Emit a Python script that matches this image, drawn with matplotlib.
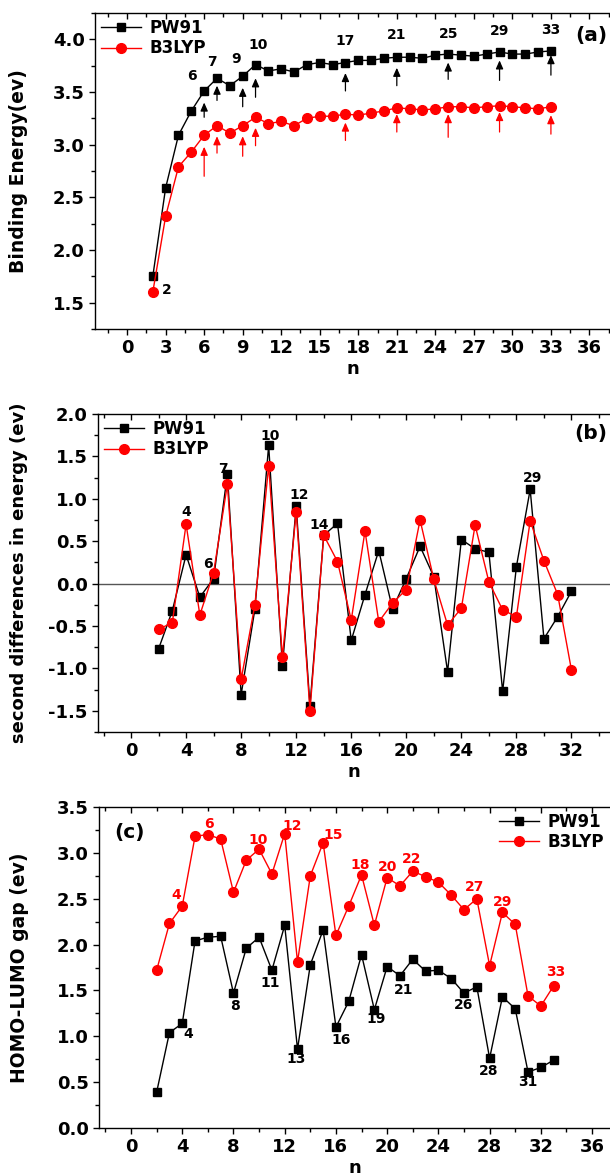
import numpy as np
import matplotlib
matplotlib.use('Agg')
import matplotlib.pyplot as plt
from matplotlib.ticker import MultipleLocator, FormatStrFormatter

plt.rcParams['font.family'] = ['DejaVu Sans']
plt.rcParams['font.weight'] = 'bold'
plt.rcParams['axes.unicode_minus'] = False

RED = '#ff0000'

# ---- (a) binding energy ----
n_a = np.arange(2, 34)
be_pw91 = [1.75, 2.59, 3.09, 3.32, 3.51, 3.63, 3.56, 3.65, 3.76, 3.70, 3.72, 3.69,
           3.76, 3.78, 3.76, 3.78, 3.80, 3.80, 3.82, 3.83, 3.83, 3.82, 3.85, 3.86,
           3.85, 3.84, 3.86, 3.88, 3.86, 3.86, 3.88, 3.89]
be_b3lyp = [1.60, 2.32, 2.79, 2.93, 3.09, 3.18, 3.11, 3.18, 3.26, 3.20, 3.22, 3.18,
            3.25, 3.27, 3.27, 3.29, 3.28, 3.30, 3.32, 3.35, 3.34, 3.33, 3.34, 3.36,
            3.36, 3.35, 3.36, 3.37, 3.36, 3.35, 3.34, 3.36]

arrow_n = [6, 7, 9, 10, 17, 21, 25, 29, 33]
arrow_gap_pw = [0.11, 0.07, 0.11, 0.13, 0.10, 0.10, 0.08, 0.08, 0.04]
arrow_len_pw = [0.14, 0.14, 0.18, 0.18, 0.17, 0.17, 0.16, 0.19, 0.19]
arrow_gap_b3 = [0.11, 0.10, 0.10, 0.10, 0.08, 0.06, 0.07, 0.06, 0.08]
arrow_len_b3 = [0.28, 0.16, 0.19, 0.17, 0.17, 0.17, 0.22, 0.19, 0.18]
# label offsets (pixels) from the PW91 point
lab_a_dx = [-12, -5, -7, 3, 0, 0, 0, 0, 0]
lab_a_dy = [8, 9, 10, 13, 15, 15, 13, 14, 14]

# ---- (b) second differences ----
n_b = np.arange(2, 33)
d2_pw91 = [-0.77, -0.32, 0.34, -0.16, 0.06, 1.29, -1.31, -0.30, 1.63, -0.97,
           0.91, -1.44, 0.57, 0.71, -0.67, -0.13, 0.39, -0.30, 0.06, 0.44,
           0.08, -1.04, 0.52, 0.41, 0.37, -1.27, 0.20, 1.11, -0.65, -0.39, -0.09]
d2_b3lyp = [-0.54, -0.46, 0.70, -0.37, 0.13, 1.17, -1.13, -0.25, 1.39, -0.87,
            0.85, -1.50, 0.57, 0.26, -0.43, 0.62, -0.45, -0.23, -0.07, 0.75,
            0.05, -0.49, -0.29, 0.69, 0.02, -0.31, -0.39, 0.74, 0.27, -0.13, -1.02]
lab_b = ['4', '6', '7', '10', '12', '14', '29']
lab_b_x = [4.0, 5.6, 6.7, 10.1, 12.2, 13.7, 29.2]
lab_b_y = [0.84, 0.23, 1.35, 1.74, 1.04, 0.69, 1.25]

# ---- (c) HOMO-LUMO gap ----
n_c = np.arange(2, 34)
gap_pw91 = [0.39, 1.04, 1.14, 2.04, 2.08, 2.09, 1.47, 1.96, 2.08, 1.72, 2.21,
            0.86, 1.78, 2.16, 1.10, 1.38, 1.89, 1.29, 1.76, 1.66, 1.84, 1.71,
            1.72, 1.63, 1.47, 1.54, 0.76, 1.43, 1.30, 0.61, 0.66, 0.74]
gap_b3lyp = [1.72, 2.23, 2.42, 3.18, 3.20, 3.15, 2.57, 2.92, 3.04, 2.77, 3.21,
             1.81, 2.75, 3.11, 2.10, 2.42, 2.76, 2.21, 2.73, 2.64, 2.80, 2.74,
             2.68, 2.54, 2.38, 2.50, 1.77, 2.35, 2.22, 1.44, 1.33, 1.55]
lab_c_red = ['4', '6', '10', '12', '15', '18', '20', '22', '27', '29', '33']
lab_c_red_x = [3.5, 6.1, 9.9, 12.6, 15.8, 17.9, 20.0, 21.9, 26.8, 29.0, 33.2]
lab_c_red_y = [2.54, 3.32, 3.14, 3.29, 3.20, 2.87, 2.85, 2.93, 2.63, 2.46, 1.70]
lab_c_blk = ['4', '8', '11', '13', '16', '19', '21', '26', '28', '31']
lab_c_blk_x = [4.5, 8.1, 10.9, 12.9, 16.4, 19.1, 21.3, 26.0, 27.9, 31.0]
lab_c_blk_y = [1.03, 1.33, 1.58, 0.75, 0.96, 1.19, 1.50, 1.34, 0.62, 0.50]


def style_axis(ax, xmaj, xmin, ymaj, ymin):
    ax.xaxis.set_major_locator(MultipleLocator(xmaj))
    ax.xaxis.set_minor_locator(MultipleLocator(xmin))
    ax.yaxis.set_major_locator(MultipleLocator(ymaj))
    ax.yaxis.set_minor_locator(MultipleLocator(ymin))
    ax.yaxis.set_major_formatter(FormatStrFormatter('%.1f'))
    ax.tick_params(which='both', direction='out', top=True, right=False,
                   labelsize=13, width=1)
    ax.tick_params(which='major', length=4)
    ax.tick_params(which='minor', length=3)
    for t in ax.xaxis.get_major_ticks() + ax.xaxis.get_minor_ticks():
        t.tick2line.set_marker(3)  # inward ticks on top
    ax.spines['right'].set_visible(False)
    for s in ['left', 'bottom', 'top']:
        ax.spines[s].set_linewidth(1.0)
    ax.set_xlabel('n', fontsize=13, fontweight='bold', labelpad=2)


fig = plt.figure(figsize=(6.1, 11.76), dpi=100)
W, H = 610.0, 1176.0

# panel (a)
ax1 = fig.add_axes([95 / W, 1 - 329 / H, (W - 95) / W, 316 / H])
ax1.plot(n_a, be_pw91, '-s', color='black', lw=1, ms=6, label='PW91')
ax1.plot(n_a, be_b3lyp, '-o', color=RED, lw=1, ms=7, label='B3LYP')
for i, k in enumerate(arrow_n):
    yp = be_pw91[k - 2]
    ax1.annotate('', xy=(k, yp - arrow_gap_pw[i]),
                 xytext=(k, yp - arrow_gap_pw[i] - arrow_len_pw[i]),
                 arrowprops=dict(arrowstyle='-|>,head_length=0.5,head_width=0.22',
                                 color='black', lw=0.9, shrinkA=0, shrinkB=0))
    yr = be_b3lyp[k - 2]
    ax1.annotate('', xy=(k, yr - arrow_gap_b3[i]),
                 xytext=(k, yr - arrow_gap_b3[i] - arrow_len_b3[i]),
                 arrowprops=dict(arrowstyle='-|>,head_length=0.5,head_width=0.22',
                                 color=RED, lw=0.9, shrinkA=0, shrinkB=0))
    ax1.annotate(str(k), xy=(k, yp), xytext=(lab_a_dx[i], lab_a_dy[i]),
                 textcoords='offset pixels', ha='center', va='bottom',
                 fontsize=10, fontweight='bold')
ax1.annotate('2', xy=(2, be_b3lyp[0]), xytext=(14, 2), textcoords='offset pixels',
             ha='center', va='center', fontsize=10, fontweight='bold')
ax1.set_xlim(-2.5, 37.6)
ax1.set_ylim(1.25, 4.25)
style_axis(ax1, 3, 1.5, 0.5, 0.25)
ax1.set_ylabel('Binding Energy(ev)', fontsize=13.5, fontweight='bold')
ax1.yaxis.set_label_coords(-0.13, 0.5)
ax1.text(0.995, 0.93, '(a)', transform=ax1.transAxes, ha='right', va='center',
         fontsize=14.5, fontweight='bold')
ax1.legend(loc='upper left', frameon=False, fontsize=12, handlelength=2.4,
           handletextpad=0.5, labelspacing=0.15, borderaxespad=0.15, borderpad=0.2)

# panel (b)
ax2 = fig.add_axes([98 / W, 1 - 732 / H, (W - 98) / W, 318 / H])
ax2.axhline(-0.01, color='#555555', lw=1)
ax2.plot(n_b, d2_pw91, '-s', color='black', lw=1, ms=6, label='PW91')
ax2.plot(n_b, d2_b3lyp, '-o', color=RED, lw=1, ms=7, label='B3LYP')
for t, x, y in zip(lab_b, lab_b_x, lab_b_y):
    ax2.text(x, y, t, ha='center', va='center', fontsize=10, fontweight='bold')
ax2.set_xlim(-2.4, 34.8)
ax2.set_ylim(-1.75, 2.0)
style_axis(ax2, 4, 2, 0.5, 0.25)
ax2.set_ylabel('second differences in energy (ev)', fontsize=13, fontweight='bold')
ax2.yaxis.set_label_coords(-0.137, 0.5)
ax2.text(0.995, 0.94, '(b)', transform=ax2.transAxes, ha='right', va='center',
         fontsize=14.5, fontweight='bold')
ax2.legend(loc='upper left', frameon=False, fontsize=12, handlelength=2.4,
           handletextpad=0.5, labelspacing=0.15, borderaxespad=0.15, borderpad=0.2)

# panel (c)
ax3 = fig.add_axes([99 / W, 1 - 1128 / H, (W - 99) / W, 321 / H])
ax3.plot(n_c, gap_pw91, '-s', color='black', lw=1, ms=6, label='PW91')
ax3.plot(n_c, gap_b3lyp, '-o', color=RED, lw=1, ms=7, label='B3LYP')
for t, x, y in zip(lab_c_red, lab_c_red_x, lab_c_red_y):
    ax3.text(x, y, t, ha='center', va='center', fontsize=10, fontweight='bold', color=RED)
for t, x, y in zip(lab_c_blk, lab_c_blk_x, lab_c_blk_y):
    ax3.text(x, y, t, ha='center', va='center', fontsize=10, fontweight='bold')
ax3.set_xlim(-2.5, 37.4)
ax3.set_ylim(0, 3.5)
style_axis(ax3, 4, 2, 0.5, 0.25)
ax3.set_ylabel('HOMO-LUMO gap (ev)', fontsize=13.5, fontweight='bold')
ax3.yaxis.set_label_coords(-0.137, 0.5)
ax3.text(0.03, 0.92, '(c)', transform=ax3.transAxes, ha='left', va='center',
         fontsize=14.5, fontweight='bold')
ax3.legend(loc='upper right', frameon=False, fontsize=12, handlelength=2.4,
           handletextpad=0.5, labelspacing=0.15, borderaxespad=0.15, borderpad=0.2)

fig.savefig('out.png', dpi=100)
